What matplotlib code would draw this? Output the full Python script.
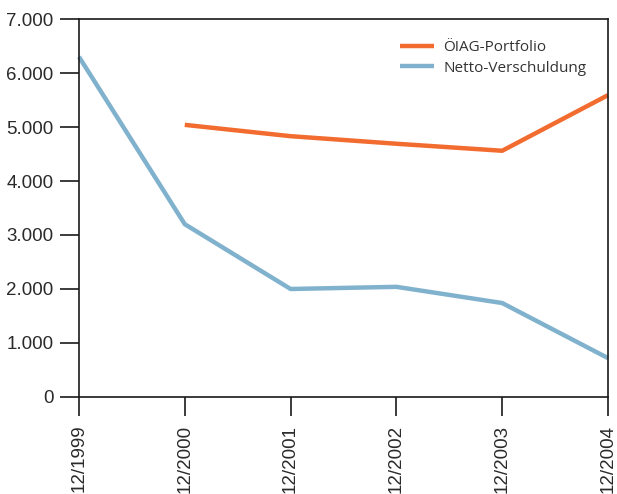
import matplotlib.pyplot as plt

years = ["12/1999", "12/2000", "12/2001", "12/2002", "12/2003", "12/2004"]
oiag_portfolio = [None, 5040, 4830, 4690, 4560, 5590]
netto_verschuldung = [6300, 3200, 2000, 2040, 1740, 720]
y_ticks = [0, 1000, 2000, 3000, 4000, 5000, 6000, 7000]
y_labels = ["0", "1.000", "2.000", "3.000", "4.000", "5.000", "6.000", "7.000"]

plt.rcParams["font.family"] = ["Liberation Sans", "DejaVu Sans"]

fig = plt.figure(figsize=(6.17, 4.94), dpi=100)
ax = fig.add_axes([0.128, 0.1964, 0.8574, 0.7651])

x = list(range(len(years)))
x_oiag = [i for i, v in zip(x, oiag_portfolio) if v is not None]
v_oiag = [v for v in oiag_portfolio if v is not None]

ax.plot(x_oiag, v_oiag, color="#F26B2F", linewidth=3.2, label="ÖIAG-Portfolio",
        solid_capstyle="butt", clip_on=False)
ax.plot(x, netto_verschuldung, color="#80B2CE", linewidth=3.2, label="Netto-Verschuldung",
        solid_capstyle="butt", clip_on=False)

ax.set_xlim(0, len(years) - 1)
ax.set_ylim(0, 7000)
ax.set_xticks(x)
ax.set_xticklabels(years, rotation=90, fontsize=13.5)
ax.set_yticks(y_ticks)
ax.set_yticklabels(y_labels, fontsize=13.5)

for s in ax.spines.values():
    s.set_linewidth(1.2)
    s.set_color("#1a1a1a")
ax.tick_params(axis="both", direction="out", length=13.5, width=1.2, color="#1a1a1a",
               labelcolor="#2a2a2a")
ax.tick_params(axis="y", pad=5)
ax.tick_params(axis="x", pad=6.5)

leg = ax.legend(loc="upper right", bbox_to_anchor=(0.985, 0.98), frameon=False,
                fontsize=11, handlelength=2.2, handletextpad=0.6, labelspacing=0.35)
for t in leg.get_texts():
    t.set_family(["Open Sans", "DejaVu Sans"])
    t.set_color("#333333")

fig.savefig("out.png", dpi=100)
